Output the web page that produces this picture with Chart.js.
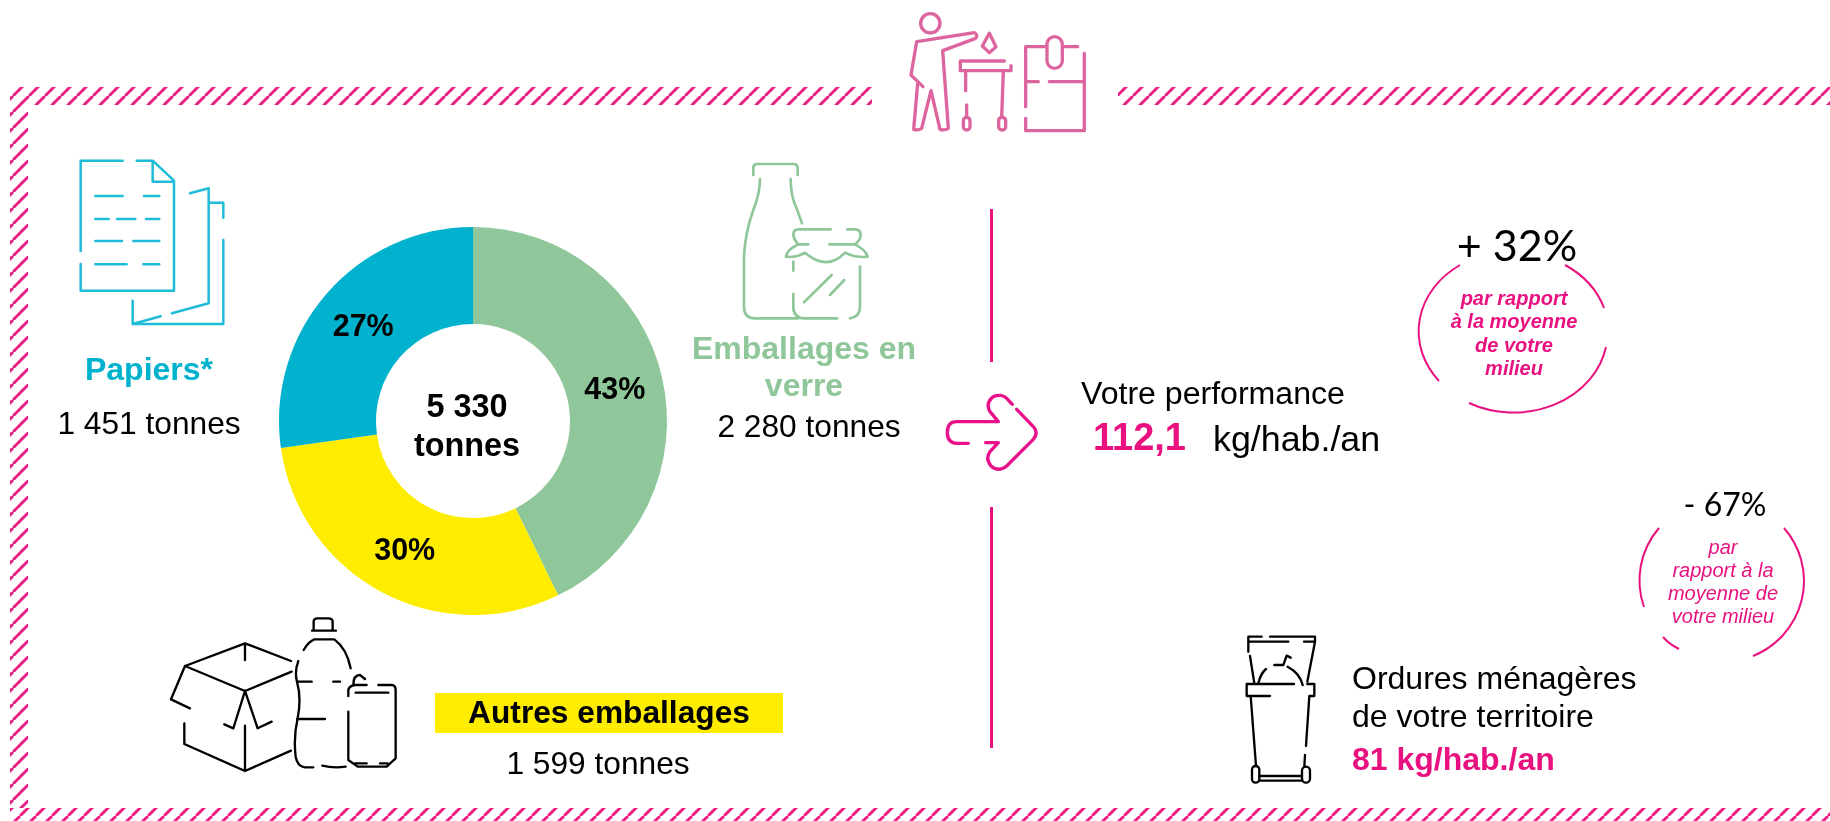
<!DOCTYPE html>
<html lang="fr"><head><meta charset="utf-8">
<script src="https://cdn.jsdelivr.net/npm/chart.js@4"></script>
<style>
html,body{margin:0;padding:0;background:#fff;width:1830px;height:821px;overflow:hidden}
#stage{position:relative;width:1830px;height:821px;font-family:"Liberation Sans",Arial,sans-serif;color:#000}
canvas,svg{position:absolute;left:0;top:0}
.t{position:absolute;white-space:pre;line-height:1}
</style></head><body>
<div id="stage">
<svg width="1830" height="821" viewBox="0 0 1830 821" fill="none" stroke-linecap="round" stroke-linejoin="round">
<defs>
<pattern id="h1" patternUnits="userSpaceOnUse" width="16" height="16"><path d="M13 0L-3 16M29 0L13 16" stroke="#ea1e85" stroke-width="3" stroke-linecap="butt"/></pattern>
<pattern id="h2" patternUnits="userSpaceOnUse" width="16" height="16"><path d="M4 0L-12 16M20 0L4 16" stroke="#ea1e85" stroke-width="3" stroke-linecap="butt"/></pattern>
</defs>
<g stroke="none">
<rect x="10" y="87" width="862" height="18" fill="url(#h1)"/>
<rect x="1118" y="87" width="712" height="18" fill="url(#h1)"/>
<rect x="10" y="105" width="18" height="703" fill="url(#h1)"/>
<rect x="10" y="808" width="1820" height="13" fill="url(#h2)"/>
<rect x="435" y="693" width="348" height="40" fill="#ffed00"/>
</g>
<g stroke="#e8117f" stroke-width="3" stroke-linecap="butt">
<path d="M991.5 209V362M991.5 507V748"/>
</g>
<g stroke="#e8117f" stroke-width="2" stroke-linecap="butt">
<path d="M1460 265A94 80 0 0 0 1439 381"/>
<path d="M1469 403A94 80 0 0 0 1606 347"/>
<path d="M1604 308A94 80 0 0 0 1565 265"/>
<path d="M1659 528A82 81 0 0 0 1644 607"/>
<path d="M1663 637Q1669 644 1679 649"/>
<path d="M1753 656A82 81 0 0 0 1784 528"/>
</g>
<!-- top icon -->
<g transform="translate(895,0) scale(.3333)" stroke="#dd659f" stroke-width="10">
<circle cx="106" cy="70" r="29"/>
<path d="M84 260L48 225L65 125L238 98Q252 106 240 116L143 152L160 385Q150 392 135 388L108 272L80 385Q70 392 56 388L68 250"/>
<path d="M283 100L262 138L283 158L303 140Z"/>
<path d="M328 183H196V212H348V197M212 215V272M215 315V352M325 215L320 352"/>
<rect x="205" y="352" width="20" height="38" rx="10"/><rect x="311" y="352" width="21" height="38" rx="10"/>
<path d="M548 140H507M455 140H392V320M392 245H430M463 245H568M568 160V392H392V355"/>
<rect x="456" y="110" width="46" height="95" rx="23"/>
</g>
<!-- paper icon -->
<g transform="translate(70,150) scale(.3333)" stroke="#1fbcd7" stroke-width="7.5">
<path d="M32 303V32H158M200 32H248L312 92V422H32V342M248 32V95H312"/>
<path d="M76 138H158M222 138H268M76 207H116M141 207H196M228 207H268M76 273H156M190 273H268M76 343H170M220 343H268"/>
<path d="M360 130L416 115V460L306 490M272 499L188 522V452M188 522H460V270M460 203V158H416"/>
</g>
<!-- glass icon -->
<g transform="translate(730,150) scale(.3333)" stroke="#8fc79a" stroke-width="8">
<path d="M70 75V52Q70 42 82 42H190Q203 42 203 55V75"/>
<path d="M90 87Q90 130 70 180Q45 250 42 320V470Q42 505 75 505H205"/>
<path d="M182 87Q182 140 200 175L216 220"/>
<path d="M302 238H205Q190 238 190 255Q192 270 205 283H235M298 283H375Q392 270 392 255Q392 238 375 238H352"/>
<path d="M205 283Q170 300 168 320Q195 325 225 308Q290 365 345 308Q380 325 413 320Q408 300 375 283"/>
<path d="M190 335V362M190 432V470Q190 505 225 505H322M360 505Q390 500 390 470V350M222 457L305 375M300 435L343 390"/>
</g>
<!-- packaging icon -->
<g transform="translate(165,610) scale(.3333)" stroke="#000" stroke-width="7">
<path d="M60 168L240 100L378 153M60 168L240 243L380 185M240 100V150M60 168L18 268L75 295M240 243L205 355L178 343M240 243L278 355L320 335"/>
<path d="M58 340V402L240 483L378 422M240 347V483"/>
<path d="M441 62H513M446 62V35Q446 25 458 25H490Q503 25 503 35V62M416 120Q430 95 448 88H508Q545 115 557 175"/>
<path d="M400 153Q388 185 396 215Q410 265 398 325Q385 380 392 440Q398 470 420 472H445M472 467Q505 475 542 470M396 215H440M505 215H525M396 327H480"/>
<path d="M565 225Q565 195 585 195L600 207M550 258V240Q552 228 570 225H605M640 225H680Q692 226 692 240V445L665 470H578L550 450V305M572 248H670M570 460H605M645 460H668"/>
</g>
<!-- bin icon -->
<g transform="translate(1220,620) scale(.3333)" stroke="#000" stroke-width="7">
<path d="M85 95V50H125M150 50H285V65L262 185M88 65H205M252 65H285M90 108L103 190"/>
<path d="M222 192H80V228H150M262 192H283V228H268L258 378M255 405L253 440M92 228L108 438"/>
<rect x="96" y="438" width="22" height="50" rx="11"/><rect x="246" y="440" width="24" height="48" rx="12"/>
<path d="M118 468H246M118 482H246M115 190Q122 160 138 147M163 135H190L200 107L212 113M203 140Q240 160 248 195"/>
</g>
<!-- arrow -->
<g transform="translate(935,380) scale(.3333)" stroke="#e8118a" stroke-width="10">
<path d="M100 190H65Q37 188 37 158Q37 125 65 125H190L165 95Q150 70 175 50Q200 40 215 55L232 73M245 88L295 140Q312 158 295 178L215 258Q190 278 168 258Q150 235 165 215L190 188H152"/>
</g>
</svg>
<canvas id="c" width="1830" height="821"></canvas>
</div>
<script>
const categories = ["Emballages en verre", "Autres emballages", "Papiers*"];
const tonnes = [2280, 1599, 1451];
const percentLabels = ["43%", "30%", "27%"];
const sliceColors = ["#8fc79a", "#ffed00", "#00b2cd"];

const sliceLabels = {
  id: "sliceLabels",
  afterDatasetsDraw(chart) {
    const ctx = chart.ctx;
    ctx.save();
    ctx.font = 'bold 30.5px "Liberation Sans", Arial, sans-serif';
    ctx.fillStyle = "#000";
    ctx.textAlign = "center";
    ctx.textBaseline = "middle";
    chart.getDatasetMeta(0).data.forEach((arc, i) => {
      const p = arc.tooltipPosition();
      ctx.fillText(percentLabels[i], p.x, p.y + 2);
    });
    ctx.restore();
  }
};

new Chart(document.getElementById("c"), {
  type: "doughnut",
  data: { labels: categories, datasets: [{ data: tonnes, backgroundColor: sliceColors, borderWidth: 0 }] },
  options: {
    responsive: false, animation: false, cutout: "50%",
    layout: { padding: { left: 279, right: 1163, top: 227, bottom: 206 } },
    plugins: { legend: { display: false }, tooltip: { enabled: false } }
  },
  plugins: [sliceLabels]
});

const PINK = "#e8117f", BLUE = "#00b2cd", GREEN = "#8fc79a";
const SANS = '"Liberation Sans", Arial, sans-serif';
const LATO = 'Lato, sans-serif';
// [text, x, y-centre, size, align, weight, colour, italic, font]
const labels = [
  ["Papiers*", 149, 369, 32, "c", 700, BLUE],
  ["1 451 tonnes", 149, 424, 31.7, "c", 400, "#000"],
  ["Emballages en", 804, 348, 32, "c", 700, GREEN],
  ["verre", 804, 385, 32, "c", 700, GREEN],
  ["2 280 tonnes", 809, 427, 31.7, "c", 400, "#000"],
  ["5 330", 467, 406, 32.4, "c", 700, "#000"],
  ["tonnes", 467, 445, 32.4, "c", 700, "#000"],
  ["Autres emballages", 609, 713, 31.7, "c", 700, "#000"],
  ["1 599 tonnes", 598, 764, 31.7, "c", 400, "#000"],
  ["Votre performance", 1081, 393, 32.1, "l", 400, "#000"],
  ["112,1", 1093, 437, 38, "l", 700, PINK],
  ["kg/hab./an", 1213, 440, 35.8, "l", 400, "#000"],
  ["+ 32%", 1517, 244, 43, "c", 400, "#000", false, LATO],
  ["par rapport", 1514, 298, 20, "c", 700, PINK, true],
  ["à la moyenne", 1514, 321, 20, "c", 700, PINK, true],
  ["de votre", 1514, 345, 20, "c", 700, PINK, true],
  ["milieu", 1514, 368, 20, "c", 700, PINK, true],
  ["- 67%", 1725, 504, 32, "c", 400, "#000", false, LATO],
  ["par", 1723, 547, 20, "c", 400, PINK, true],
  ["rapport à la", 1723, 570, 20, "c", 400, PINK, true],
  ["moyenne de", 1723, 593, 20, "c", 400, PINK, true],
  ["votre milieu", 1723, 616, 20, "c", 400, PINK, true],
  ["Ordures ménagères", 1352, 678, 32, "l", 400, "#000"],
  ["de votre territoire", 1352, 716, 32, "l", 400, "#000"],
  ["81 kg/hab./an", 1352, 759, 32, "l", 700, PINK]
];
const stage = document.getElementById("stage");
labels.forEach(([s, x, y, size, al, w, col, it, font]) => {
  const d = document.createElement("div");
  d.className = "t";
  d.textContent = s;
  d.style.left = x + "px";
  d.style.top = y + "px";
  d.style.fontSize = size + "px";
  d.style.fontWeight = w;
  d.style.color = col;
  d.style.fontStyle = it ? "italic" : "normal";
  d.style.fontFamily = font || SANS;
  d.style.transform = al === "c" ? "translate(-50%,-50%)" : "translate(0,-50%)";
  stage.appendChild(d);
});
</script>
</body></html>
